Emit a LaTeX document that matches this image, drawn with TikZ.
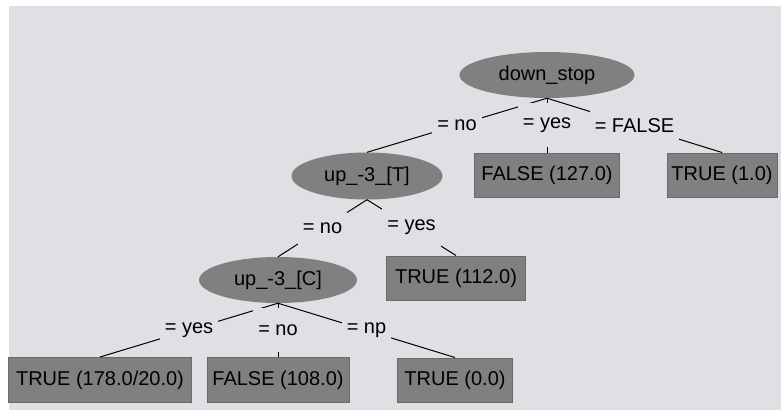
\documentclass[tikz,border=0pt]{standalone}
\usepackage{fontspec}
\setmainfont{Liberation Sans}
\usetikzlibrary{shapes.geometric}
\definecolor{bgc}{HTML}{E0DFE3}
\definecolor{nodec}{HTML}{808080}
\definecolor{edgec}{HTML}{6A6A6A}
\tikzset{
  treefont/.style={font=\fontsize{20}{24}\selectfont},
  splitnode/.style={ellipse, fill=nodec, inner sep=0pt, treefont},
  leafnode/.style={rectangle, fill=nodec, draw=edgec, line width=1pt, inner sep=0pt, treefont},
  edgelabel/.style={fill=bgc, inner sep=0pt, minimum height=44pt, inner xsep=5pt, treefont},
  treeedge/.style={draw=black, line width=1pt}
}
\begin{document}
\begin{tikzpicture}[x=1pt,y=-1pt]
\useasboundingbox (0,0) rectangle (781,410);
\fill[white] (0,0) rectangle (781,410);
\fill[bgc] (9,6) rectangle (781,410);
% split nodes
\node[splitnode, minimum width=175pt, minimum height=46pt] (root) at (547,75) {down\_stop};
\node[splitnode, minimum width=151pt, minimum height=47pt] (upT) at (367,176) {up\_-3\_[T]};
\node[splitnode, minimum width=158pt, minimum height=46pt] (upC) at (278,280) {up\_-3\_[C]};
% leaves
\node[leafnode, minimum width=145pt, minimum height=44pt] (f127) at (547,175) {FALSE (127.0)};
\node[leafnode, minimum width=110pt, minimum height=44pt] (t1) at (722,175) {TRUE (1.0)};
\node[leafnode, minimum width=139pt, minimum height=44pt] (t112) at (456,278) {TRUE (112.0)};
\node[leafnode, minimum width=183pt, minimum height=45pt] (t178) at (100,380) {TRUE (178.0/20.0)};
\node[leafnode, minimum width=142pt, minimum height=45pt] (f108) at (278,380) {FALSE (108.0)};
\node[leafnode, minimum width=115pt, minimum height=44pt] (t0) at (455,380) {TRUE (0.0)};
% edges
\path[treeedge] (root.south) -- node[edgelabel] (lno) {= no} (upT.north);
\path[treeedge] (root.south) -- node[edgelabel] (lyes) {= yes} (f127.north);
\path[treeedge] (root.south) -- node[edgelabel] (lfalse) {= FALSE} (t1.north);
\path[treeedge] (upT.south) -- node[edgelabel] (lno2) {= no} (upC.north);
\path[treeedge] (upT.south) -- node[edgelabel] (lyes2) {= yes} (t112.north);
\path[treeedge] (upC.south) -- node[edgelabel] (lyes3) {= yes} (t178.north);
\path[treeedge] (upC.south) -- node[edgelabel] (lno3) {= no} (f108.north);
\path[treeedge] (upC.south) -- node[edgelabel] (lnp3) {= np} (t0.north);
\end{tikzpicture}
\end{document}
